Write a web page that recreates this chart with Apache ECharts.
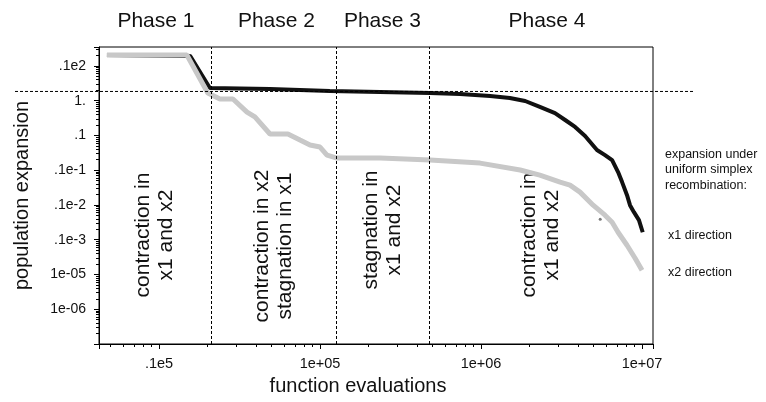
<!DOCTYPE html>
<html><head><meta charset="utf-8">
<script src="https://cdn.jsdelivr.net/npm/echarts@6/dist/echarts.min.js"></script>
<style>html,body{margin:0;padding:0;background:#fff}#c{width:766px;height:402px}</style>
</head><body><div id="c"></div>
<script>
// x1 direction (black) : [function evaluations, population expansion]
const x1Direction = [[4750,20.7],[15600,19.4],[20700,2.32],[48900,2.17],[115000,1.90],[482000,1.67],[741000,1.56],[1140000,1.37],[1510000,1.20],[1880000,0.98],[2320000,0.66],[2880000,0.44],[3330000,0.278],[3840000,0.175],[4430000,0.096],[5250000,0.038],[5890000,0.0272],[6520000,0.0195],[7100000,0.00881],[7520000,0.00454],[8070000,0.00191],[8420000,0.000986],[8910000,0.00062],[9570000,0.000365],[10100000,0.000164]];
// x2 direction (grey)
const x2Direction = [[4750,20.7],[14900,20.7],[20100,1.67],[23900,1.12],[28800,1.12],[35200,0.47],[39400,0.34],[48900,0.11],[63200,0.11],[75100,0.0736],[86700,0.0528],[100000,0.0463],[110500,0.0272],[127600,0.0223],[236000,0.0223],[482000,0.0195],[986000,0.016],[1750000,0.0101],[2320000,0.0072],[3100000,0.00454],[3570000,0.00372],[4120000,0.00234],[4970000,0.000986],[5890000,0.000508],[6520000,0.000319],[7100000,0.000164],[8070000,0.0000694],[9060000,0.0000293],[10000000,0.0000132]];
const strayPoint = [[5500000,0.00039]];
const phaseBounds = [21000, 125600, 475000];
const expansionRef = 1.84;
const phaseNames = ['Phase 1','Phase 2','Phase 3','Phase 4'];
const phaseTexts = ['contraction in\nx1 and x2','contraction in x2\nstagnation in x1','stagnation in\nx1 and x2','contraction in\nx1 and x2'];
const xTickLabels = {'4':'.1e5','5':'1e+05','6':'1e+06','7':'1e+07'};
const yTickLabels = {'1':'.1e2','0':'1.','-1':'.1','-2':'.1e-1','-3':'.1e-2','-4':'.1e-3','-5':'1e-05','-6':'1e-06'};
const xRange = [4240, 11700000];
const yRange = [1e-7, 35];

const FONT = "'Liberation Sans', Arial, Helvetica, sans-serif";
function decadeLabel(map){
  return function(v){
    const l = Math.log10(v), e = Math.round(l);
    if (Math.abs(l - e) > 1e-6) return '';
    return map[String(e)] !== undefined ? map[String(e)] : '';
  };
}
const chart = echarts.init(document.getElementById('c'), null, {renderer:'canvas'});
chart.setOption({
  animation:false,
  grid:{left:99, right:113, top:47, bottom:58, show:true, borderColor:'#000', borderWidth:1, backgroundColor:'transparent'},
  xAxis:{type:'log', logBase:10, min:xRange[0], max:xRange[1], splitNumber:4,
    axisLine:{show:true, lineStyle:{color:'#000', width:1}},
    axisTick:{show:true, length:5, lineStyle:{color:'#000'}},
    minorTick:{show:true, splitNumber:9, length:3, lineStyle:{color:'#000'}},
    splitLine:{show:false}, minorSplitLine:{show:false},
    axisLabel:{fontFamily:FONT, fontSize:14.5, color:'#111', margin:12, formatter:decadeLabel(xTickLabels), showMinLabel:true, showMaxLabel:true}
  },
  yAxis:{type:'log', logBase:10, min:yRange[0], max:yRange[1], interval:1,
    name:'population expansion', nameLocation:'middle', nameGap:67,
    nameTextStyle:{fontFamily:FONT, fontSize:20, color:'#111'},
    axisLine:{show:true, lineStyle:{color:'#000', width:1}},
    axisTick:{show:true, length:5, lineStyle:{color:'#000'}},
    minorTick:{show:true, splitNumber:9, length:3, lineStyle:{color:'#000'}},
    splitLine:{show:false}, minorSplitLine:{show:false},
    axisLabel:{fontFamily:FONT, fontSize:14, color:'#111', margin:13, formatter:decadeLabel(yTickLabels)}
  },
  series:[
    {type:'line', data:x1Direction, symbol:'none', z:2, lineStyle:{color:'#111', width:4},
     markLine:{silent:true, symbol:['none','none'], label:{show:false}, lineStyle:{color:'#000', width:1, type:[3,2]},
       data:phaseBounds.map(v=>({xAxis:v}))}},
    {type:'line', data:x2Direction, symbol:'none', z:3, lineStyle:{color:'#c8c8c8', width:5}},
    {type:'scatter', data:strayPoint, symbolSize:3, z:4, itemStyle:{color:'#555'}}
  ]
});
const yRef = chart.convertToPixel({gridIndex:0}, [1e5, expansionRef])[1];
const edges = [xRange[0]].concat(phaseBounds, [xRange[1]]).map(v=>chart.convertToPixel({gridIndex:0},[v,1])[0]);
const labelShift = [1, 3, 0, 6];
const g = [{type:'line', z:10, shape:{x1:15, y1:yRef, x2:695, y2:yRef}, style:{stroke:'#000', lineWidth:1, lineDash:[3,2]}}];
for (let i=0;i<4;i++){
  const cx = (edges[i]+edges[i+1])/2;
  g.push({type:'text', x:cx+labelShift[i], y:21, style:{text:phaseNames[i], fontFamily:FONT, fontSize:21, fill:'#111', textAlign:'center', textVerticalAlign:'middle'}});
  g.push({type:'text', x:cx, y:[235,246,230,235][i], rotation:Math.PI/2, style:{text:phaseTexts[i], fontFamily:FONT, fontSize:21, lineHeight:23, fill:'#111', textAlign:'center', textVerticalAlign:'middle'}});
}
g.push({type:'text', x:358, y:386, style:{text:'function evaluations', fontFamily:FONT, fontSize:20, fill:'#111', textAlign:'center', textVerticalAlign:'middle'}});
g.push({type:'text', x:665, y:170, style:{text:'expansion under\nuniform simplex\nrecombination:', fontFamily:FONT, fontSize:12.5, lineHeight:15.5, fill:'#111', textAlign:'left', textVerticalAlign:'middle'}});
g.push({type:'text', x:668, y:236, style:{text:'x1 direction', fontFamily:FONT, fontSize:12.5, fill:'#111', textAlign:'left', textVerticalAlign:'middle'}});
g.push({type:'text', x:668, y:273, style:{text:'x2 direction', fontFamily:FONT, fontSize:12.5, fill:'#111', textAlign:'left', textVerticalAlign:'middle'}});
chart.setOption({graphic:g});
</script></body></html>
